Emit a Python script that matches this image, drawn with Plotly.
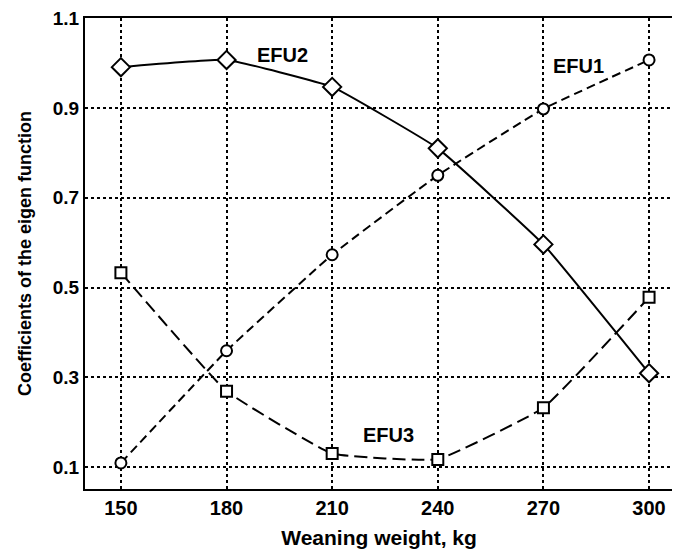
import plotly.graph_objects as go

weights = [150, 180, 210, 240, 270, 300]
efu1 = [0.109, 0.359, 0.573, 0.750, 0.898, 1.007]
efu2 = [0.991, 1.007, 0.947, 0.810, 0.596, 0.309]
efu3 = [0.533, 0.269, 0.130, 0.117, 0.232, 0.478]
y_ticks = [0.1, 0.3, 0.5, 0.7, 0.9, 1.1]

font_family = "Liberation Sans, Arial, sans-serif"

fig = go.Figure()
fig.add_trace(go.Scatter(
    x=weights, y=efu1, mode="lines+markers", name="EFU1",
    line=dict(color="black", width=2, dash="9px,5px", shape="spline", smoothing=0.3),
    marker=dict(symbol="circle", size=11, color="white", line=dict(color="black", width=2)),
))
fig.add_trace(go.Scatter(
    x=weights, y=efu2, mode="lines+markers", name="EFU2",
    line=dict(color="black", width=2, shape="spline", smoothing=0.3),
    marker=dict(symbol="diamond", size=14, color="white", line=dict(color="black", width=2)),
))
fig.add_trace(go.Scatter(
    x=weights, y=efu3, mode="lines+markers", name="EFU3",
    line=dict(color="black", width=2, dash="13px,6px", shape="spline", smoothing=0.3),
    marker=dict(symbol="square", size=11, color="white", line=dict(color="black", width=2)),
))

for txt, x, y in [("EFU2", 196, 1.018), ("EFU1", 280, 0.993), ("EFU3", 226, 0.171)]:
    fig.add_annotation(x=x, y=y, text=f"<b>{txt}</b>", showarrow=False,
                       font=dict(family=font_family, size=20, color="black"))

# page body adds an 8px offset, so the figure is 8px smaller than the window
fig.update_layout(
    width=672, height=545,
    margin=dict(l=77, r=7, t=10, b=64),
    paper_bgcolor="white", plot_bgcolor="white",
    showlegend=False,
    font=dict(family=font_family, color="black"),
)
fig.update_xaxes(
    range=[139.8, 306.8], tickvals=weights, ticktext=[f"<b>{w}</b>" for w in weights], ticks="",
    showline=True, linecolor="black", linewidth=2, mirror=True,
    showgrid=True, gridcolor="black", gridwidth=2, griddash="3px,3px",
    zeroline=False, automargin=False,
    tickfont=dict(family=font_family, size=20, color="black"),
    title=dict(text="<b>Weaning weight, kg</b>", font=dict(family=font_family, size=21, color="black"), standoff=12),
)
fig.update_yaxes(
    range=[0.051, 1.1005], tickvals=y_ticks, ticktext=[f"<b>{v:.1f}</b>" for v in y_ticks], ticks="",
    showline=True, linecolor="black", linewidth=2, mirror=False,
    showgrid=True, gridcolor="black", gridwidth=2, griddash="3px,3px",
    zeroline=False, automargin=False, ticklabeloverflow="allow",
    tickfont=dict(family=font_family, size=19, color="black"),
    title=dict(text="<b>Coefficients of the eigen function</b>", font=dict(family=font_family, size=18, color="black"), standoff=16),
)

fig.write_html("out.html")
